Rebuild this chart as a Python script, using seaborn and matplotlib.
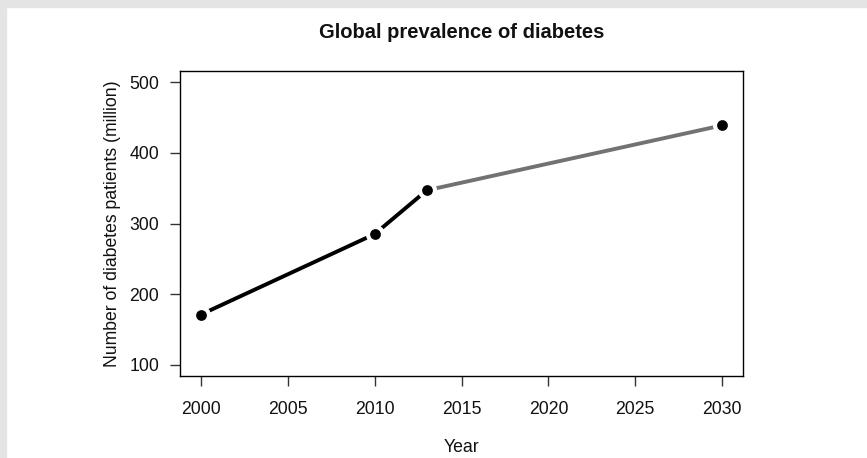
import pandas as pd
import seaborn as sns
import matplotlib.pyplot as plt
from matplotlib.patches import Rectangle

years = [2000, 2010, 2013, 2030]
patients = [171, 285, 347, 439]
# observed data up to 2013, projection from 2013 to 2030
observed_years = [2000, 2010, 2013]
observed_vals = [171, 285, 347]
projected_years = [2013, 2030]
projected_vals = [347, 439]

lines = pd.DataFrame({
    "Year": observed_years + projected_years,
    "patients": observed_vals + projected_vals,
    "segment": ["observed"] * 3 + ["projected"] * 2,
})
points = pd.DataFrame({"Year": years, "patients": patients})

sns.set_style("ticks")
plt.rcParams["font.family"] = ["Liberation Sans", "DejaVu Sans"]

fig, ax = plt.subplots(figsize=(8.67, 4.58), dpi=100)
fig.subplots_adjust(left=0.2076, right=0.857, top=0.845, bottom=0.179)

sns.lineplot(data=lines, x="Year", y="patients", hue="segment",
             palette={"observed": "black", "projected": "#727272"},
             estimator=None, linewidth=2.8, legend=False, ax=ax,
             solid_capstyle="butt")
# white halo gives the gaps between line and points (R type="b")
sns.scatterplot(data=points, x="Year", y="patients", s=190, color="white",
                linewidth=0, ax=ax, zorder=3)
sns.scatterplot(data=points, x="Year", y="patients", s=60, color="black",
                linewidth=0, ax=ax, zorder=4)

ax.set_xlim(1998.8, 2031.2)
ax.set_ylim(84, 516)
ax.set_xticks([2000, 2005, 2010, 2015, 2020, 2025, 2030])
ax.set_yticks([100, 200, 300, 400, 500])

for s in ax.spines.values():
    s.set_visible(True)
    s.set_color("black")
    s.set_linewidth(1.0)

ax.tick_params(axis="both", direction="out", length=7, width=1,
               colors="#333333", labelcolor="#111111", labelsize=12.7)
ax.tick_params(axis="x", pad=11)
ax.tick_params(axis="y", pad=8)

ax.set_title("Global prevalence of diabetes", fontsize=14.5,
             fontweight="bold", pad=24, color="#111111")
ax.set_xlabel("Year", fontsize=12.7, labelpad=15, color="#111111")
ax.set_ylabel("Number of diabetes patients (million)", fontsize=12.7,
              labelpad=6, color="#111111")

# light gray frame strips at top and left of the image
fig.patches.append(Rectangle((0, 1 - 7 / 458), 1, 7 / 458,
                             transform=fig.transFigure, color="#e4e4e4", zorder=0))
fig.patches.append(Rectangle((0, 0), 6 / 867, 1,
                             transform=fig.transFigure, color="#e4e4e4", zorder=0))

fig.savefig("out.png", dpi=100)
